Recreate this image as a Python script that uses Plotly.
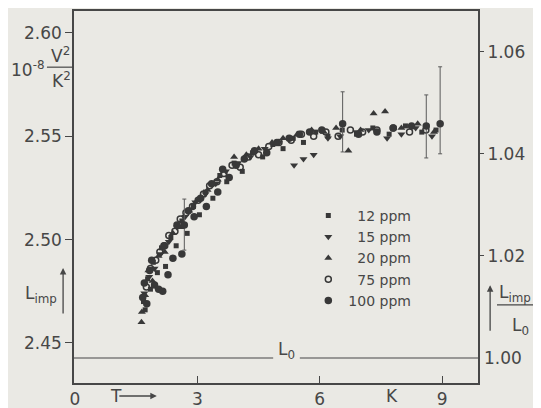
import plotly.graph_objects as go

# T in K, L_imp in 10^-8 V^2/K^2, one pair of lists per concentration
t_12 = [1.68, 1.72, 1.78, 1.85, 1.92, 2.02, 2.12, 2.22, 2.35, 2.48, 2.62, 2.75, 2.9, 3.05, 3.2, 3.38, 3.55,
        3.72, 3.9, 4.1, 4.35, 4.6, 4.85, 5.1, 5.35, 5.6, 5.9, 6.2, 6.55, 6.9, 7.3, 7.7, 8.1, 8.5, 8.85]
l_12 = [2.470, 2.466, 2.481, 2.476, 2.489, 2.484, 2.496, 2.487, 2.501, 2.497, 2.509, 2.503, 2.516, 2.512,
        2.523, 2.520, 2.531, 2.528, 2.537, 2.533, 2.542, 2.540, 2.546, 2.544, 2.549, 2.547, 2.552, 2.550,
        2.553, 2.551, 2.554, 2.551, 2.555, 2.552, 2.553]

t_15 = [1.7, 1.82, 1.95, 2.1, 2.3, 2.5, 2.7, 2.95, 3.2, 3.45, 3.7, 4.0, 4.3, 4.65, 5.0, 5.37, 5.6, 5.85,
        6.2, 6.5, 6.9, 7.2, 7.65, 8.0, 8.35, 8.75]
l_15 = [2.474, 2.482, 2.486, 2.493, 2.499, 2.506, 2.511, 2.518, 2.522, 2.527, 2.533, 2.537, 2.540, 2.544,
        2.547, 2.536, 2.539, 2.541, 2.549, 2.550, 2.552, 2.553, 2.549, 2.551, 2.554, 2.550]

t_20 = [1.63, 1.64, 1.72, 1.8, 1.9, 2.05, 2.2, 2.4, 2.6, 2.8, 3.0, 3.25, 3.5, 3.9, 4.2, 4.5, 4.83, 5.1,
        5.45, 5.8, 6.1, 6.4, 6.7, 7.0, 7.32, 7.6, 8.0, 8.4, 8.8]
l_20 = [2.460, 2.465, 2.473, 2.485, 2.480, 2.492, 2.494, 2.503, 2.506, 2.514, 2.519, 2.524, 2.529, 2.540,
        2.541, 2.544, 2.547, 2.549, 2.551, 2.553, 2.552, 2.554, 2.543, 2.553, 2.561, 2.562, 2.554, 2.556,
        2.552]

t_75 = [1.75, 1.85, 1.98, 2.08, 2.18, 2.3, 2.45, 2.58, 2.72, 2.88, 3.02, 3.15, 3.3, 3.48, 3.65, 3.85,
        4.05, 4.25, 4.5, 4.75, 5.0, 5.3, 5.55, 5.85, 6.15, 6.45, 6.75, 7.05, 7.4, 7.8, 8.2, 8.6]
l_75 = [2.477, 2.486, 2.490, 2.494, 2.497, 2.502, 2.504, 2.510, 2.513, 2.516, 2.519, 2.522, 2.526, 2.528,
        2.532, 2.536, 2.535, 2.540, 2.541, 2.545, 2.547, 2.548, 2.551, 2.550, 2.552, 2.550, 2.553, 2.552,
        2.553, 2.554, 2.552, 2.553]

t_100 = [1.66, 1.7, 1.76, 1.83, 1.88, 1.95, 2.05, 2.15, 2.2, 2.28, 2.4, 2.5, 2.62, 2.78, 2.92, 3.08,
         3.22, 3.35, 3.5, 3.62, 3.78, 3.95, 4.15, 4.4, 4.7, 4.95, 5.25, 5.5, 5.75, 6.05, 6.95, 7.4, 7.8,
         8.25]
l_100 = [2.472, 2.479, 2.469, 2.485, 2.490, 2.478, 2.476, 2.475, 2.497, 2.483, 2.491, 2.507, 2.493,
         2.514, 2.511, 2.520, 2.516, 2.527, 2.523, 2.534, 2.530, 2.536, 2.539, 2.543, 2.542, 2.547, 2.549,
         2.551, 2.552, 2.553, 2.551, 2.552, 2.554, 2.555]

# points with error bars
err_t = [2.68, 6.56, 8.61, 8.95]
err_l = [2.507, 2.556, 2.555, 2.556]
err_up = [0.0126, 0.0155, 0.0150, 0.0276]
err_dn = [0.0121, 0.0136, 0.0155, 0.0145]

left_ticks = [2.45, 2.50, 2.55, 2.60]
right_ticks = [1.00, 1.02, 1.04, 1.06]
x_ticks = [0, 3, 6, 9]
L0 = 1.00

ink = '#474747'
dot = '#383838'
paper = '#eae9e4'
font = 'DejaVu Sans'

series = [
    ('\u200712 ppm', t_12, l_12, 'square', 5, dot),
    ('\u200715 ppm', t_15, l_15, 'triangle-down', 7, dot),
    ('\u200720 ppm', t_20, l_20, 'triangle-up', 7, dot),
    ('\u200775 ppm', t_75, l_75, 'circle-open', 6, dot),
    ('100 ppm', t_100, l_100, 'circle', 7.5, dot),
]

fig = go.Figure()
for name, t, l, sym, size, col in series:
    fig.add_trace(go.Scatter(x=t, y=l, mode='markers', name=name,
                             marker=dict(symbol=sym, size=size, color=col,
                                         line=dict(width=1.5 if 'open' in sym else 0, color=col))))

fig.add_trace(go.Scatter(x=err_t, y=err_l, mode='markers', showlegend=False,
                         marker=dict(symbol='circle', size=7.5, color=dot),
                         error_y=dict(type='data', symmetric=False, array=err_up, arrayminus=err_dn,
                                      color='#5a5a5a', thickness=1, width=2)))

# the page body adds 8px at left/top, so shrink the figure by that much
fig.update_layout(
    template='none',
    width=533, height=400,
    margin=dict(l=66, r=63, t=3, b=25, autoexpand=False),
    paper_bgcolor=paper, plot_bgcolor=paper,
    font=dict(family=font, color=ink, size=17),
    showlegend=True,
    legend=dict(x=0.58, y=0.492, xanchor='left', yanchor='top', bgcolor='rgba(0,0,0,0)',
                font=dict(size=14, color=ink), itemwidth=30, tracegroupgap=0),
    xaxis=dict(range=[-0.024, 9.878], tickvals=x_ticks, ticktext=[str(v) for v in x_ticks],
               ticks='inside', ticklen=7, tickwidth=1.2, tickcolor=ink, automargin=False,
               showline=True, linecolor=ink, linewidth=1.5, mirror=True,
               showgrid=False, zeroline=False),
    yaxis=dict(range=[2.4306, 2.6106], tickvals=left_ticks, ticktext=['%.2f' % v for v in left_ticks],
               ticks='outside', ticklen=7, tickwidth=1.2, tickcolor=ink, automargin=False,
               showline=True, linecolor=ink, linewidth=1.5, mirror=True,
               showgrid=False, zeroline=False),
    yaxis2=dict(range=[0.9951, 1.0680], overlaying='y', side='right', anchor='x',
                tickvals=right_ticks[1:], ticktext=['%.2f' % v for v in right_ticks[1:]],
                ticks='outside', ticklen=5, tickwidth=1.2, tickcolor=ink, automargin=False,
                showline=False, showgrid=False, zeroline=False),
)

# L0 reference line with a gap for its label
fig.add_shape(type='line', xref='paper', yref='y2', x0=0, x1=0.493, y0=L0, y1=L0,
              line=dict(color=ink, width=1.2))
fig.add_shape(type='line', xref='paper', yref='y2', x0=0.559, x1=1, y0=L0, y1=L0,
              line=dict(color=ink, width=1.2))
fig.add_annotation(text='L<sub>0</sub>', xref='paper', yref='y2', x=0.526, y=L0, yanchor='bottom',
                   showarrow=False, yshift=-6, font=dict(size=17))
fig.add_annotation(text='1.00', xref='paper', yref='y2', x=1.0, y=L0, xanchor='left', yanchor='middle',
                   showarrow=False, xshift=4, font=dict(size=17))

# left unit: 10^-8 V^2/K^2
fig.add_annotation(text='10<sup>-8</sup>', xref='paper', yref='paper', x=-0.066, y=0.845,
                   xanchor='right', yanchor='middle', showarrow=False, font=dict(size=17))
fig.add_annotation(text='V<sup>2</sup>', xref='paper', yref='paper', x=-0.034, y=0.882,
                   xanchor='center', yanchor='middle', showarrow=False, font=dict(size=17))
fig.add_annotation(text='K<sup>2</sup>', xref='paper', yref='paper', x=-0.03, y=0.815,
                   xanchor='center', yanchor='middle', showarrow=False, font=dict(size=17))
fig.add_shape(type='line', xref='paper', yref='paper', x0=-0.067, x1=-0.002, y0=0.849, y1=0.849,
              line=dict(color=ink, width=1.2))

# L_imp labels with arrows
fig.add_annotation(text='L<sub>imp</sub>', xref='paper', yref='paper', x=-0.037, y=0.237,
                   xanchor='right', yanchor='middle', showarrow=False, font=dict(size=17))
fig.add_annotation(x=-0.027, y=0.309, ax=0, ay=47, xref='paper', yref='paper', text='',
                   showarrow=True, arrowhead=2, arrowsize=1, arrowwidth=1.3, arrowcolor=ink)

fig.add_annotation(text='L<sub>imp</sub>', xref='paper', yref='paper', x=1.048, y=0.24,
                   xanchor='left', yanchor='middle', showarrow=False, font=dict(size=17))
fig.add_shape(type='line', xref='paper', yref='paper', x0=1.047, x1=1.156, y0=0.21, y1=0.21,
              line=dict(color=ink, width=1.2))
fig.add_annotation(text='L<sub>0</sub>', xref='paper', yref='paper', x=1.104, y=0.152,
                   xanchor='center', yanchor='middle', showarrow=False, font=dict(size=17))
fig.add_annotation(x=1.03, y=0.263, ax=0, ay=47, xref='paper', yref='paper', text='',
                   showarrow=True, arrowhead=2, arrowsize=1, arrowwidth=1.3, arrowcolor=ink)

# T arrow and unit on x axis
fig.add_annotation(text='T', xref='paper', yref='paper', x=0.084, y=-0.035, yanchor='middle',
                   showarrow=False, font=dict(size=17))
fig.add_annotation(x=0.205, y=-0.035, ax=-39, ay=0, xref='paper', yref='paper', text='',
                   showarrow=True, arrowhead=2, arrowsize=1, arrowwidth=1.3, arrowcolor=ink)
fig.add_annotation(text='K', xref='paper', yref='paper', x=0.807, y=-0.035, yanchor='middle',
                   showarrow=False, font=dict(size=17))

fig.write_html("out.html")
